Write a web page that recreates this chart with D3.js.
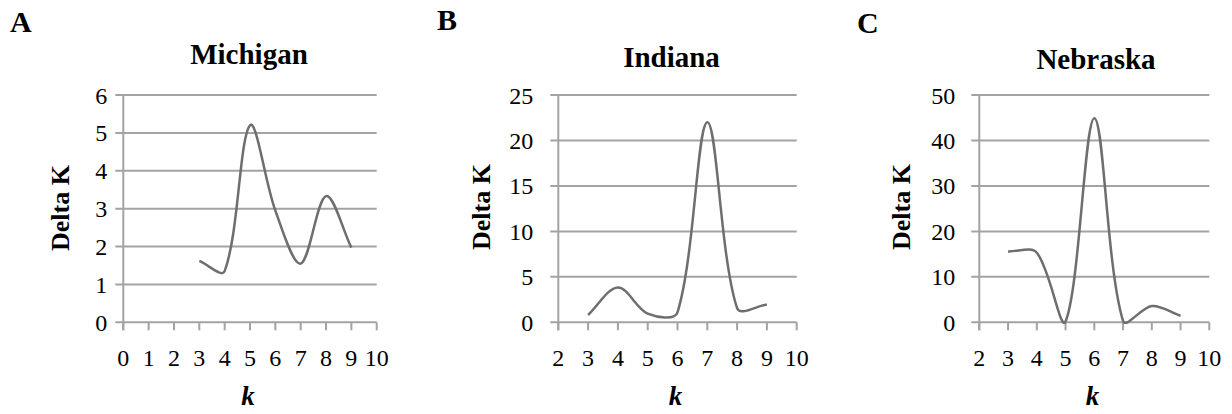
<!DOCTYPE html>
<html>
<head>
<meta charset="utf-8">
<script src="https://cdn.jsdelivr.net/npm/d3@7"></script>
<style>
  html, body { margin: 0; padding: 0; background: #fff; }
  svg { display: block; }
</style>
</head>
<body>
<svg id="chart" width="1232" height="414"></svg>
<script>
// ---- data ----
const kValues = [3, 4, 5, 6, 7, 8, 9];
const deltaMichigan = [1.62, 1.35, 5.2, 2.95, 1.55, 3.33, 1.97];
const deltaIndiana  = [0.8, 3.84, 0.95, 1.1, 22.0, 1.55, 1.97];
const deltaNebraska = [15.6, 15.3, 0.2, 44.9, 0.3, 3.6, 1.45];

const panelLetters = ["A", "B", "C"];
const panelTitles  = ["Michigan", "Indiana", "Nebraska"];

const xTicksMichigan = [0, 1, 2, 3, 4, 5, 6, 7, 8, 9, 10];
const xTicksIndiana  = [2, 3, 4, 5, 6, 7, 8, 9, 10];
const xTicksNebraska = [2, 3, 4, 5, 6, 7, 8, 9, 10];
const yTicksMichigan = [0, 1, 2, 3, 4, 5, 6];
const yTicksIndiana  = [0, 5, 10, 15, 20, 25];
const yTicksNebraska = [0, 10, 20, 30, 40, 50];

const yAxisLabel = "Delta K";
const xAxisLabel = "k";

// ---- spreadsheet-style smoothing curve (Bezier with chord-proportional tangents) ----
function curveSmooth(context) {
  let pts = [];
  return {
    areaStart() {}, areaEnd() {},
    lineStart() { pts = []; },
    point(x, y) { pts.push([+x, +y]); },
    lineEnd() {
      const n = pts.length;
      if (!n) return;
      context.moveTo(pts[0][0], pts[0][1]);
      if (n === 1) return;
      const dist = (a, b) => Math.hypot(b[0] - a[0], b[1] - a[1]);
      for (let i = 0; i < n - 1; i++) {
        const p0 = pts[Math.max(i - 1, 0)], p1 = pts[i], p2 = pts[i + 1], p3 = pts[Math.min(i + 2, n - 1)];
        const d01 = dist(p0, p1), d12 = dist(p1, p2), d23 = dist(p2, p3);
        const f1 = d12 / (3 * (d01 + d12 || 1));
        const f2 = d12 / (3 * (d12 + d23 || 1));
        const c1 = [p1[0] + (p2[0] - p0[0]) * f1, p1[1] + (p2[1] - p0[1]) * f1];
        const c2 = [p2[0] - (p3[0] - p1[0]) * f2, p2[1] - (p3[1] - p1[1]) * f2];
        context.bezierCurveTo(c1[0], c1[1], c2[0], c2[1], p2[0], p2[1]);
      }
    }
  };
}

// ---- layout ----
const svg = d3.select("#chart");
const FONT = "'Liberation Serif', 'Times New Roman', serif";
const GRID = "#a3a3a3";
const LINE = "#6e6e6e";

const panels = [
  { values: deltaMichigan, xTicks: xTicksMichigan, yTicks: yTicksMichigan,
    left: 123.3, right: 376.7, top: 95, bottom: 322.3, labelGap: 16,
    letterX: 10, letterY: 32, titleX: 249, titleY: 64, ylabX: 61, ylabY: 208, kX: 248 },
  { values: deltaIndiana, xTicks: xTicksIndiana, yTicks: yTicksIndiana,
    left: 558.3, right: 796.7, top: 95, bottom: 322.3, labelGap: 25,
    letterX: 437, letterY: 30, titleX: 671.5, titleY: 66.5, ylabX: 481.5, ylabY: 207, kX: 675.5 },
  { values: deltaNebraska, xTicks: xTicksNebraska, yTicks: yTicksNebraska,
    left: 979.3, right: 1209.3, top: 95, bottom: 322.3, labelGap: 24,
    letterX: 857, letterY: 33, titleX: 1096, titleY: 69, ylabX: 902, ylabY: 207, kX: 1092.5 }
];

panels.forEach((p, i) => {
  const g = svg.append("g");
  const x = d3.scaleLinear()
    .domain([d3.min(p.xTicks), d3.max(p.xTicks)])
    .range([p.left, p.right]);
  const y = d3.scaleLinear()
    .domain([d3.min(p.yTicks), d3.max(p.yTicks)])
    .range([p.bottom, p.top]);

  g.selectAll("line.grid").data(p.yTicks).enter().append("line")
    .attr("x1", p.left - 8).attr("x2", p.right)
    .attr("y1", d => y(d)).attr("y2", d => y(d))
    .attr("stroke", GRID).attr("stroke-width", 2);

  g.append("line")
    .attr("x1", p.left).attr("x2", p.left)
    .attr("y1", p.top).attr("y2", p.bottom + 8)
    .attr("stroke", GRID).attr("stroke-width", 2);

  g.selectAll("line.xt").data(p.xTicks).enter().append("line")
    .attr("x1", d => x(d)).attr("x2", d => x(d))
    .attr("y1", p.bottom).attr("y2", p.bottom + 8)
    .attr("stroke", GRID).attr("stroke-width", 2);

  g.selectAll("text.yl").data(p.yTicks).enter().append("text")
    .attr("x", p.left - p.labelGap)
    .attr("y", d => y(d) + 8.5)
    .attr("text-anchor", "end")
    .attr("font-family", FONT).attr("font-size", 24)
    .attr("fill", "#000")
    .text(d => d);

  g.selectAll("text.xl").data(p.xTicks).enter().append("text")
    .attr("x", d => x(d))
    .attr("y", 365.5)
    .attr("text-anchor", "middle")
    .attr("font-family", FONT).attr("font-size", 24)
    .attr("fill", "#000")
    .text(d => d);

  const pts = kValues.map((k, j) => [k, p.values[j]]);
  const line = d3.line()
    .x(d => x(d[0])).y(d => y(d[1]))
    .curve(curveSmooth);
  g.append("path")
    .attr("d", line(pts))
    .attr("fill", "none")
    .attr("stroke", LINE)
    .attr("stroke-width", 2.5)
    .attr("stroke-linejoin", "round");

  g.append("text")
    .attr("x", p.letterX).attr("y", p.letterY)
    .attr("font-family", FONT).attr("font-size", 30).attr("font-weight", "bold")
    .text(panelLetters[i]);

  g.append("text")
    .attr("x", p.titleX).attr("y", p.titleY)
    .attr("text-anchor", "middle")
    .attr("font-family", FONT).attr("font-size", 29).attr("font-weight", "bold")
    .text(panelTitles[i]);

  g.append("text")
    .attr("transform", `translate(${p.ylabX + 8},${p.ylabY}) rotate(-90)`)
    .attr("text-anchor", "middle")
    .attr("font-family", FONT).attr("font-size", 26).attr("font-weight", "bold")
    .text(yAxisLabel);

  g.append("text")
    .attr("x", p.kX).attr("y", 405)
    .attr("text-anchor", "middle")
    .attr("font-family", FONT).attr("font-size", 27)
    .attr("font-weight", "bold").attr("font-style", "italic")
    .text(xAxisLabel);
});
</script>
</body>
</html>
